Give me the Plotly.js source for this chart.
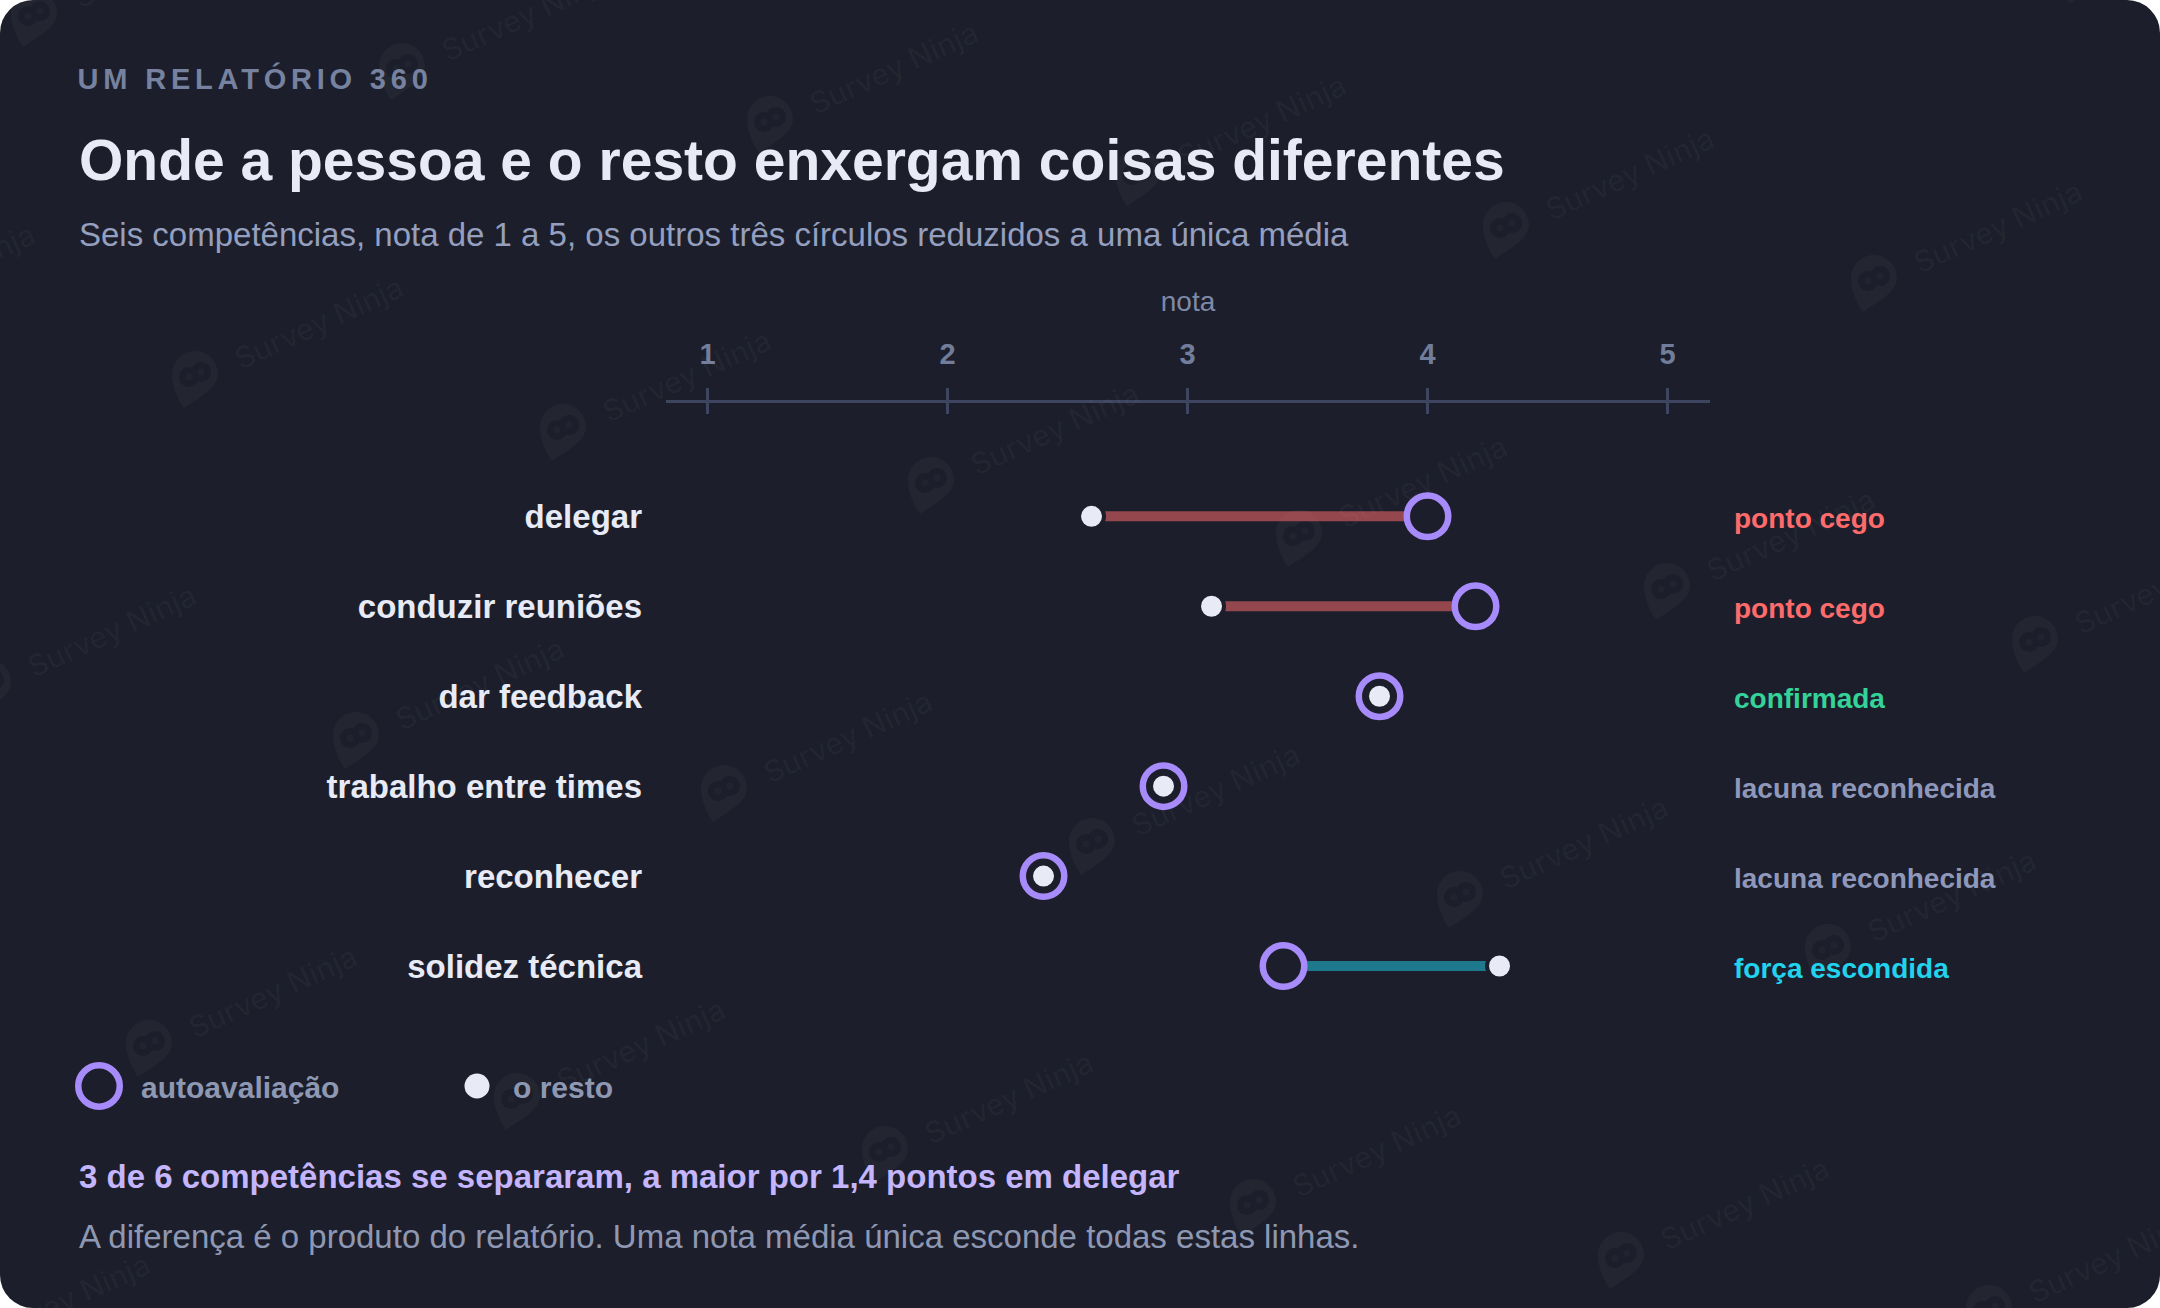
<!DOCTYPE html>
<html>
<head>
<meta charset="utf-8">
<script src="https://cdn.plot.ly/plotly-3.0.1.min.js"></script>
<style>
  html, body { margin: 0; padding: 0; background: #fff; }
  #card { width: 2160px; height: 1308px; background: #1c1f2b; border-radius: 33px; overflow: hidden; }
  .annotation[data-index="0"] text { letter-spacing: 4.8px; }
</style>
</head>
<body>
<div id="card"><div id="plot" style="width:2160px;height:1308px"></div></div>
<script>
const W = 2160;
const H = 1308;
const BG = "#1c1f2b";
const FONT = "Liberation Sans, Arial, sans-serif";

const competencies = ["delegar", "conduzir reuniões", "dar feedback", "trabalho entre times", "reconhecer", "solidez técnica"];
const selfScores = [4.0, 4.2, 3.8, 2.9, 2.4, 3.4];
const restScores = [2.6, 3.1, 3.8, 2.9, 2.4, 4.3];
const verdicts = ["ponto cego", "ponto cego", "confirmada", "lacuna reconhecida", "lacuna reconhecida", "força escondida"];
const verdictColors = { "ponto cego": "#ff6b6b", "confirmada": "#34d399", "lacuna reconhecida": "#8f98bb", "força escondida": "#22d3ee" };
const tickValues = [1, 2, 3, 4, 5];

const px = x => x / W;
const py = y => 1 - y / H;

function gapLine(pickRow) {
  const x = [];
  const y = [];
  competencies.forEach((name, i) => {
    if (!pickRow(i)) return;
    x.push(restScores[i], selfScores[i], null);
    y.push(name, name, null);
  });
  return { x, y };
}

const traces = [
  {
    ...gapLine(i => selfScores[i] > restScores[i]),
    mode: "lines",
    line: { color: "#ff6b6b", width: 10 },
    opacity: 0.53,
    hoverinfo: "skip"
  },
  {
    ...gapLine(i => selfScores[i] < restScores[i]),
    mode: "lines",
    line: { color: "#22d3ee", width: 10 },
    opacity: 0.5,
    hoverinfo: "skip"
  },
  {
    x: selfScores,
    y: competencies,
    mode: "markers",
    marker: { size: 41.5, color: BG, line: { color: "#a78bfa", width: 6.5 } },
    hoverinfo: "skip"
  },
  {
    x: restScores,
    y: competencies,
    mode: "markers",
    marker: { size: 25, color: "#e8ebf5", line: { color: BG, width: 4 } },
    hoverinfo: "skip"
  }
];

function text(str, x, y, size, color, bold) {
  return {
    text: bold ? "<b>" + str + "</b>" : str,
    xref: "paper", yref: "paper",
    x: px(x), y: py(y),
    xanchor: "left", yanchor: "middle",
    showarrow: false,
    font: { family: FONT, size, color }
  };
}

const annotations = [
  text("UM RELATÓRIO 360", 114, 79, 29, "#76829f", true),
  text("Onde a pessoa e o resto enxergam coisas diferentes", 76.5, 160, 57, "#e8ebf5", true),
  text("Seis competências, nota de 1 a 5, os outros três círculos reduzidos a uma única média", 76.5, 234, 33, "#959fbf", false),
  text("autoavaliação", 139, 1087, 30, "#8f98b3", true),
  text("o resto", 511, 1087, 30, "#8f98b3", true),
  text("3 de 6 competências se separaram, a maior por 1,4 pontos em delegar", 76.5, 1176, 33, "#c4b5fd", true),
  text("A diferença é o produto do relatório. Uma nota média única esconde todas estas linhas.", 76.5, 1236, 33, "#8f98b3", false)
];

verdicts.forEach((verdict, i) => {
  annotations.push({
    text: "<b>" + verdict + "</b>",
    xref: "paper", yref: "y",
    x: px(1732), y: competencies[i],
    xanchor: "left", yanchor: "middle", yshift: -2,
    showarrow: false,
    font: { family: FONT, size: 28, color: verdictColors[verdict] }
  });
});

const shapes = [];

tickValues.forEach(v => {
  shapes.push({
    type: "line", xref: "x", yref: "paper", ysizemode: "pixel", yanchor: py(402),
    x0: v, x1: v, y0: -12, y1: 12,
    line: { color: "#3d4560", width: 3 }
  });
});

// legend keys
shapes.push({
  type: "circle", xref: "paper", yref: "paper",
  xsizemode: "pixel", ysizemode: "pixel", xanchor: px(99), yanchor: py(1086),
  x0: -20.75, x1: 20.75, y0: -20.75, y1: 20.75,
  line: { color: "#a78bfa", width: 6.5 }
});
shapes.push({
  type: "circle", xref: "paper", yref: "paper",
  xsizemode: "pixel", ysizemode: "pixel", xanchor: px(477), yanchor: py(1086),
  x0: -12.5, x1: 12.5, y0: -12.5, y1: 12.5,
  fillcolor: "#e8ebf5", line: { width: 0 }
});

// background watermark
const MARK = "rgba(255,255,255,0.033)";
function pinPath(cx, cy) {
  const r = 23, k = r * 0.55;
  const pts = [
    ["M", cx - r, cy],
    ["C", cx - r, cy - k, cx - k, cy - r, cx, cy - r],
    ["C", cx + k, cy - r, cx + r, cy - k, cx + r, cy],
    ["C", cx + r, cy + 14, cx + 4, cy + 24, cx - 11, cy + 34],
    ["C", cx - 18, cy + 24, cx - r, cy + 12, cx - r, cy]
  ];
  return pts.map(p => p[0] + p.slice(1).map((v, i) => i % 2 ? py(v) : px(v)).join(",")).join(" ") + " Z";
}
function blob(cx, cy, r, fill) {
  shapes.push({
    type: "circle", xref: "paper", yref: "paper", layer: "below",
    xsizemode: "pixel", ysizemode: "pixel", xanchor: px(cx), yanchor: py(cy),
    x0: -r, x1: r, y0: -r, y1: r,
    fillcolor: fill, line: { width: 0 }
  });
}
for (let j = -1; j < 5; j++) {
  for (let i = -7; i < 8; i++) {
    const cx = 1874 + i * 368 + j * 161;
    const cy = 278 + i * 53 + j * 361;
    if (cx < -240 || cx > W + 40 || cy < -60 || cy > H + 60) continue;
    shapes.push({
      type: "path", xref: "paper", yref: "paper", layer: "below",
      path: pinPath(cx, cy),
      fillcolor: MARK, line: { width: 0 }
    });
    blob(cx - 6, cy + 3, 10, BG);
    blob(cx + 6, cy - 2, 10, BG);
    blob(cx - 6, cy + 3, 3.5, "#21242f");
    blob(cx + 6, cy - 2, 3.5, "#21242f");
    annotations.push({
      text: "Survey Ninja",
      xref: "paper", yref: "paper",
      x: px(cx + 123), y: py(cy - 51),
      xanchor: "center", yanchor: "middle", textangle: -24.5,
      showarrow: false,
      font: { family: "Inter, " + FONT, size: 30, color: MARK, weight: 500 }
    });
  }
}

const layout = {
  width: W,
  height: H,
  margin: { l: 0, r: 0, t: 0, b: 0 },
  paper_bgcolor: "rgba(0,0,0,0)",
  plot_bgcolor: "rgba(0,0,0,0)",
  showlegend: false,
  hovermode: false,
  font: { family: FONT },
  xaxis: {
    domain: [px(666), px(1710)],
    range: [0.827, 5.177],
    side: "top",
    anchor: "y",
    tickmode: "array",
    tickvals: tickValues,
    ticks: "outside",
    ticklen: 12,
    tickwidth: 3,
    tickcolor: "#3d4560",
    ticklabelstandoff: 12,
    showline: true,
    linecolor: "#3d4560",
    linewidth: 3,
    showgrid: false,
    zeroline: false,
    tickfont: { family: FONT, size: 29, color: "#727d9b", weight: 700 },
    title: { text: "nota", standoff: 19, font: { family: FONT, size: 28, color: "#7f89a8" } }
  },
  yaxis: {
    domain: [py(1011), py(403)],
    type: "category",
    categoryorder: "array",
    categoryarray: competencies,
    range: [5.5, -1.26],
    ticks: "",
    ticklabelstandoff: 23,
    showline: false,
    showgrid: false,
    zeroline: false,
    tickfont: { family: FONT, size: 33, color: "#e8ebf5", weight: 700 }
  },
  annotations,
  shapes
};

Plotly.newPlot("plot", traces, layout, { displayModeBar: false, staticPlot: true });
</script>
</body>
</html>
